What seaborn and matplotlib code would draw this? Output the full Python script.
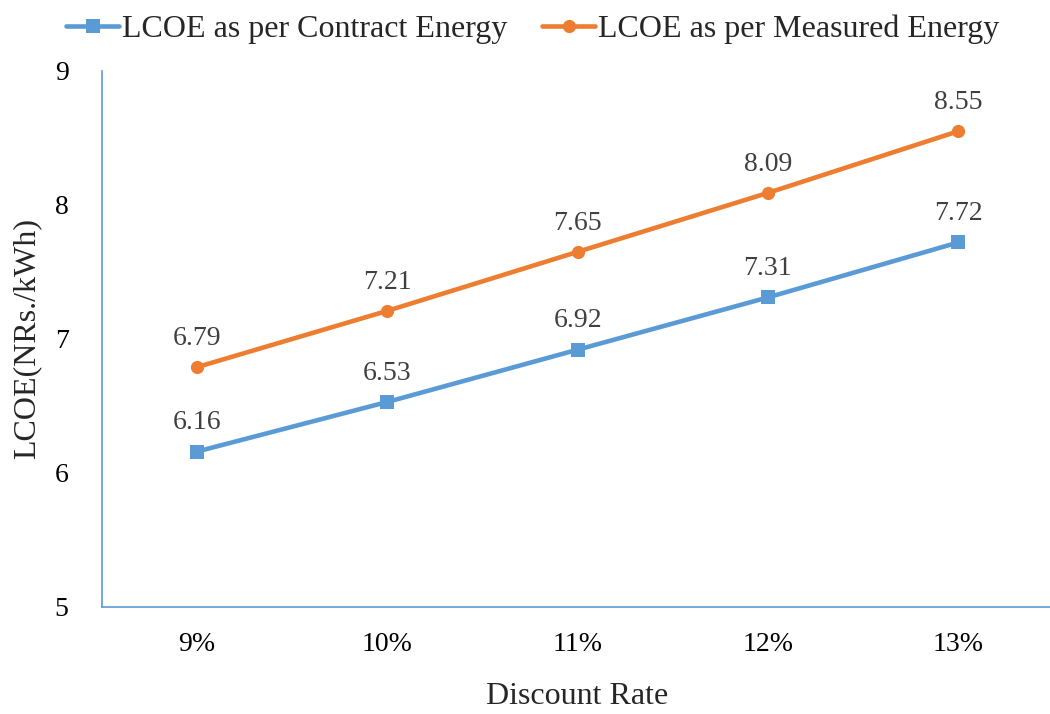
import matplotlib
matplotlib.use("Agg")
import matplotlib.pyplot as plt
import seaborn as sns
import pandas as pd

# Levelised cost of energy at different discount rates
discount_rates = ["9%", "10%", "11%", "12%", "13%"]
lcoe_contract = [6.16, 6.53, 6.92, 7.31, 7.72]
lcoe_measured = [6.79, 7.21, 7.65, 8.09, 8.55]
series_names = ["LCOE as per Contract Energy", "LCOE as per Measured Energy"]

sns.set_theme(style="white")
plt.rcParams["font.family"] = ["Liberation Serif", "DejaVu Serif"]

df = pd.DataFrame({
    "rate": discount_rates * 2,
    "pos": list(range(len(discount_rates))) * 2,
    "lcoe": lcoe_contract + lcoe_measured,
    "series": [series_names[0]] * len(discount_rates) + [series_names[1]] * len(discount_rates),
})

blue = "#5B9BD5"
orange = "#ED7D31"
palette = {series_names[0]: blue, series_names[1]: orange}
markers = {series_names[0]: "s", series_names[1]: "o"}

fig = plt.figure(figsize=(10.5, 7.14), dpi=100)
ax = fig.add_axes([0.0971, 0.1499, 0.906, 0.7507])

sns.lineplot(data=df, x="pos", y="lcoe", hue="series", style="series",
             palette=palette, markers=markers, dashes=False, linewidth=3.3,
             markersize=9.5, markeredgewidth=0, ax=ax)

for _, row in df.iterrows():
    ax.annotate(f"{row['lcoe']:.2f}", (row["pos"], row["lcoe"]),
                xytext=(0, 16), textcoords="offset points", ha="center",
                va="baseline", fontsize=20, color="#404040")

ax.set_xlim(-0.5, len(discount_rates) - 0.5)
ax.set_ylim(5, 9)
ax.set_yticks([5, 6, 7, 8, 9])
ax.set_xticks(range(len(discount_rates)))
ax.set_xticklabels(discount_rates)
ax.tick_params(axis="both", labelsize=20, colors="black", length=0)
ax.tick_params(axis="x", pad=18)
ax.tick_params(axis="y", pad=24)

for side in ["top", "right"]:
    ax.spines[side].set_visible(False)
for side in ["left", "bottom"]:
    ax.spines[side].set_color(blue)
    ax.spines[side].set_linewidth(1.2)

ax.set_xlabel("Discount Rate", fontsize=23, labelpad=18)
ax.set_ylabel("LCOE(NRs./kWh)", fontsize=23, labelpad=10)

handles, labels = ax.get_legend_handles_labels()
ax.legend(handles, labels, loc="lower center", bbox_to_anchor=(0.453, 1.0),
          ncol=2, frameon=False, fontsize=23, handlelength=1.65,
          handletextpad=0.1, columnspacing=1.1, borderaxespad=0.45)

fig.savefig("out.png", dpi=100)
